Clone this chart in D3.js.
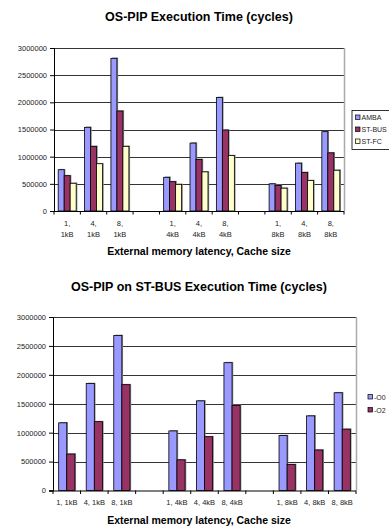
<!DOCTYPE html>
<html>
<head>
<meta charset="utf-8">
<script src="https://cdn.jsdelivr.net/npm/d3@7"></script>
<style>
  body { margin: 0; background: #fff; }
  svg { display: block; font-family: "Liberation Sans", Arial, sans-serif; }
</style>
</head>
<body>
<svg id="chart" width="389" height="527"></svg>
<script>
'use strict';

// category slots, empty strings are the gaps between cache sizes
const latencies = ['1', '4', '8', '', '1', '4', '8', '', '1', '4', '8'];
const cacheSizes = ['1kB', '1kB', '1kB', '', '4kB', '4kB', '4kB', '', '8kB', '8kB', '8kB'];
const yTicks = [0, 500000, 1000000, 1500000, 2000000, 2500000, 3000000];

// top chart: OS-PIP execution time per bus
const busNames = ['AMBA', 'ST-BUS', 'ST-FC'];
const ambaValues = [760000, 1540000, 2810000, null, 620000, 1250000, 2090000, null, 500000, 880000, 1460000];
const stbusValues = [650000, 1190000, 1840000, null, 540000, 950000, 1490000, null, 470000, 710000, 1070000];
const stfcValues = [510000, 870000, 1190000, null, 490000, 720000, 1020000, null, 420000, 560000, 750000];

// bottom chart: OS-PIP on ST-BUS per compiler optimisation
const optNames = ['-O0', '-O2'];
const o0Values = [1170000, 1850000, 2680000, null, 1030000, 1550000, 2210000, null, 950000, 1290000, 1690000];
const o2Values = [630000, 1190000, 1830000, null, 530000, 930000, 1470000, null, 450000, 700000, 1060000];

const svg = d3.select('#chart');

function drawChart(opts) {
  const g = svg.append('g');
  const slots = d3.range(latencies.length);

  const x = d3.scaleBand().domain(slots).range([opts.left, opts.right]);
  const inner = d3.scaleBand().domain(opts.series).range([0, x.bandwidth()]).paddingOuter(0.7);
  const y = d3.scaleLinear().domain([0, 3000000]).range([opts.bottom, opts.top]);

  // title
  g.append('text')
    .attr('x', opts.titleX)
    .attr('y', opts.titleY)
    .attr('text-anchor', 'middle')
    .attr('font-size', '12.5px')
    .attr('font-weight', 'bold')
    .text(opts.title);

  // gridlines
  g.selectAll('.grid')
    .data(yTicks.slice(1))
    .enter()
    .append('line')
    .attr('x1', opts.left)
    .attr('x2', opts.right)
    .attr('y1', (d) => Math.round(y(d)) + 0.5)
    .attr('y2', (d) => Math.round(y(d)) + 0.5)
    .attr('stroke', '#000')
    .attr('stroke-width', 0.8);

  // plot border right side
  g.append('line')
    .attr('x1', opts.right + 0.5).attr('x2', opts.right + 0.5)
    .attr('y1', opts.top).attr('y2', opts.bottom)
    .attr('stroke', '#aaa')
    .attr('stroke-width', 1.5);

  // bars
  opts.series.forEach((name, si) => {
    const values = opts.values[si];
    const bars = g.append('g');
    const present = slots.filter((i) => values[i] !== null);

    bars.selectAll('.shadow')
      .data(present)
      .enter()
      .append('rect')
      .attr('x', (i) => x(i) + inner(name) + 1.2)
      .attr('y', (i) => y(values[i]) - 0.8)
      .attr('width', inner.bandwidth())
      .attr('height', (i) => opts.bottom - y(values[i]) + 0.8)
      .attr('fill', '#888');

    bars.selectAll('.bar')
      .data(present)
      .enter()
      .append('rect')
      .attr('x', (i) => x(i) + inner(name))
      .attr('y', (i) => y(values[i]))
      .attr('width', inner.bandwidth())
      .attr('height', (i) => opts.bottom - y(values[i]))
      .attr('fill', opts.colors[si])
      .attr('stroke', '#000')
      .attr('stroke-width', 0.8);
  });

  // y axis
  const yAxis = d3.axisLeft(y)
    .tickValues(yTicks)
    .tickSize(4)
    .tickPadding(3)
    .tickFormat(d3.format('d'));
  const ya = g.append('g')
    .attr('transform', `translate(${opts.left},0)`)
    .call(yAxis);
  ya.select('.domain').attr('stroke', '#000');
  ya.selectAll('text').attr('font-size', '7.5px').attr('fill', '#222');

  // x axis line and boundary ticks
  g.append('line')
    .attr('x1', opts.left - 4).attr('x2', opts.right)
    .attr('y1', opts.bottom + 0.5).attr('y2', opts.bottom + 0.5)
    .attr('stroke', '#000');
  g.selectAll('.xtick')
    .data(d3.range(latencies.length + 1))
    .enter()
    .append('line')
    .attr('x1', (i) => opts.left + i * x.step())
    .attr('x2', (i) => opts.left + i * x.step())
    .attr('y1', opts.bottom)
    .attr('y2', opts.bottom + 3.5)
    .attr('stroke', '#000');

  // category labels
  const labels = g.selectAll('.xlabel')
    .data(slots.filter((i) => latencies[i] !== ''))
    .enter()
    .append('text')
    .attr('text-anchor', 'middle')
    .attr('font-size', '7.5px')
    .attr('fill', '#222');

  if (opts.twoLine) {
    labels.append('tspan')
      .attr('x', (i) => x(i) + x.bandwidth() / 2)
      .attr('y', opts.labelY)
      .text((i) => latencies[i] + ',');
    labels.append('tspan')
      .attr('x', (i) => x(i) + x.bandwidth() / 2)
      .attr('y', opts.labelY + 11)
      .text((i) => cacheSizes[i]);
  } else {
    labels
      .attr('x', (i) => x(i) + x.bandwidth() / 2)
      .attr('y', opts.labelY)
      .text((i) => latencies[i] + ', ' + cacheSizes[i]);
  }

  // x axis title
  g.append('text')
    .attr('x', opts.titleX)
    .attr('y', opts.axisTitleY)
    .attr('text-anchor', 'middle')
    .attr('font-size', '10.5px')
    .attr('font-weight', 'bold')
    .text('External memory latency, Cache size');

  // legend
  const lg = g.append('g');
  if (opts.legendBox) {
    lg.append('rect')
      .attr('x', opts.legendX - 3.5)
      .attr('y', opts.legendY - 7)
      .attr('width', 40)
      .attr('height', opts.series.length * opts.legendStep + 3)
      .attr('fill', '#fff')
      .attr('stroke', '#000')
      .attr('stroke-width', 0.8);
  }
  opts.series.forEach((name, si) => {
    const ly = opts.legendY + si * opts.legendStep;
    lg.append('rect')
      .attr('x', opts.legendX)
      .attr('y', ly - 2.5)
      .attr('width', 4.5)
      .attr('height', 4.5)
      .attr('fill', opts.colors[si])
      .attr('stroke', '#000')
      .attr('stroke-width', 0.7);
    lg.append('text')
      .attr('x', opts.legendX + 6)
      .attr('y', ly + 2.5)
      .attr('font-size', '7px')
      .attr('fill', '#222')
      .text(name);
  });
}

drawChart({
  title: 'OS-PIP Execution Time (cycles)',
  series: busNames,
  values: [ambaValues, stbusValues, stfcValues],
  colors: ['#9999ff', '#993366', '#ffffcc'],
  left: 54, right: 344, top: 48, bottom: 211,
  titleX: 199, titleY: 20.5,
  labelY: 226, twoLine: true, axisTitleY: 254.5,
  legendX: 355.5, legendY: 117.5, legendStep: 12, legendBox: true,
});

drawChart({
  title: 'OS-PIP on ST-BUS Execution Time (cycles)',
  series: optNames,
  values: [o0Values, o2Values],
  colors: ['#9999ff', '#993366'],
  left: 53, right: 356, top: 317, bottom: 490.5,
  titleX: 199, titleY: 290.5,
  labelY: 505, twoLine: false, axisTitleY: 523.5,
  legendX: 368, legendY: 397, legendStep: 13, legendBox: false,
});
</script>
</body>
</html>
